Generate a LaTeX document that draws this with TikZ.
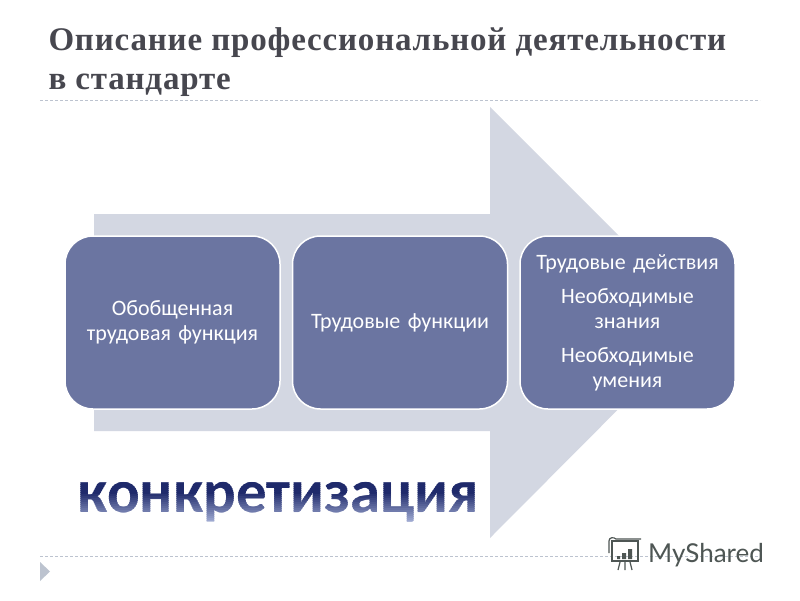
\documentclass[tikz,border=0pt]{standalone}
\usepackage{fontspec}
\setmainfont{Carlito}
\newfontfamily\titlefont[LetterSpace=2.5]{Liberation Serif}
\newfontfamily\logofont{Lato}
\definecolor{arrowgray}{HTML}{D3D7E2}
\definecolor{boxblue}{HTML}{6B75A1}
\definecolor{titlegray}{HTML}{47474F}
\definecolor{rulegray}{HTML}{BCC3CF}
\definecolor{logogray}{HTML}{4E5654}
\definecolor{wordtop}{HTML}{1F2A6B}
\definecolor{wordbottom}{HTML}{C3CDEE}
\begin{document}
\begin{tikzpicture}[x=1pt, y=-1pt]
\tikzstyle{stepbox} = [draw=white, line width=1.5pt, fill=boxblue, rounded corners=28pt, minimum width=215pt, minimum height=173pt, text=white, align=center, text width=205pt, font=\fontsize{22}{24.5}\selectfont]
\tikzstyle{rule} = [rulegray, densely dashed, line width=0.7pt]
\tikzstyle{titleline} = [anchor=base west, text=titlegray, font=\fontsize{33}{33}\selectfont\titlefont\bfseries]
\useasboundingbox (0, 0) rectangle (800, 600);
\fill[white] (0, 0) rectangle (800, 600);
% title
\node[titleline] (title1) at (45, 50) {Описание профессиональной деятельности};
\node[titleline] (title2) at (45, 89) {в стандарте};
\draw[rule] (40, 100) -- (760, 100);
\draw[rule] (40, 556) -- (760, 556);
\fill[rulegray] (40, 562) -- (50, 571.5) -- (40, 581) -- cycle;
% big arrow
\fill[arrowgray] (94, 214) -- (490, 214) -- (490, 107) -- (705, 322) -- (490, 538) -- (490, 431) -- (94, 431) -- cycle;
% boxes
\node[stepbox] (general) at (172.5, 322.5) {Обобщенная\\трудовая функция};
\node[stepbox] (functions) at (400, 322.5) {Трудовые функции};
\node[stepbox] (actions) at (627.5, 322.5) {Трудовые действия\\[10pt]Необходимые\\знания\\[10pt]Необходимые\\умения};
% word, cut in strips for the gradient
\foreach \i in {0,...,24} {
  \pgfmathsetmacro{\pct}{min(100, max(0, 100-5.5*(\i-8)))}
  \begin{scope}
  \clip (60, 476+2*\i) rectangle (500, 478.3+2*\i);
  \node[anchor=base, inner sep=0pt, text=wordtop!\pct!wordbottom, font=\fontsize{61}{61}\selectfont\bfseries] (word\i) at (278.5, 512) {конкретизация};
  \end{scope}
}
% logo
\draw[logogray, line width=1.2pt] (612, 541) rectangle (638, 561);
\draw[logogray, line width=1.2pt] (609, 553) -- (609, 541) .. controls (609, 537) and (614, 537) .. (616, 539) -- (641, 539);
\fill[logogray] (617, 556) rectangle (620, 559) (622, 553) rectangle (626, 559) (628, 549) rectangle (632, 559);
\draw[logogray, line width=1.2pt] (620, 562) -- (618, 570) (625, 562) -- (625, 570) (630, 562) -- (632, 570);
\node[anchor=base west, inner sep=0pt, text=logogray, font=\fontsize{26}{26}\selectfont\logofont] (logo) at (648, 562) {MyShared};
\end{tikzpicture}
\end{document}
